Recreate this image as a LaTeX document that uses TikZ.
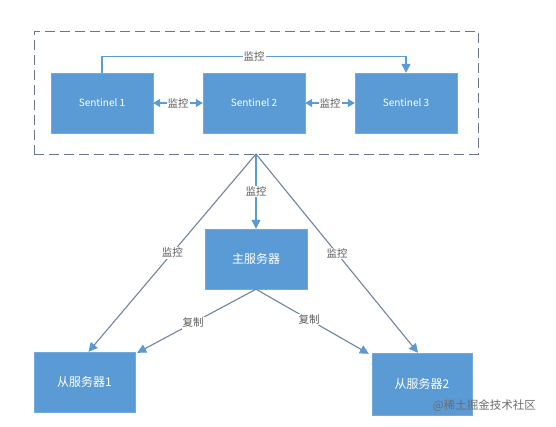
\documentclass[tikz,border=0pt]{standalone}
\usepackage{fontspec}
\setmainfont{Noto Sans CJK SC}
\usetikzlibrary{arrows.meta}
\definecolor{boxblue}{HTML}{5B9BD5}
\definecolor{linegray}{HTML}{6E849B}
\definecolor{dashgray}{HTML}{66788A}
\definecolor{labelgray}{HTML}{595959}
\tikzset{
  blockbox/.style={draw=boxblue!85!white, fill=boxblue, text=white, minimum width=102pt, minimum height=60pt, inner sep=0pt, font=\fontsize{12}{14}\selectfont},
  sentbox/.style={blockbox, font=\fontsize{10}{12}\selectfont},
  lbl/.style={fill=white, text=labelgray, inner sep=1pt, font=\fontsize{10.5}{12}\selectfont},
  tipA/.style={-{Triangle[length=9pt,width=9pt,color=boxblue]}},
  tipB/.style={{Triangle[length=7pt,width=8pt,color=boxblue]}-{Triangle[length=7pt,width=8pt,color=boxblue]}},
  blueline/.style={draw=boxblue, line width=1.3pt},
  grayline/.style={draw=linegray, line width=1.1pt},
}
\begin{document}
\begin{tikzpicture}[x=1pt,y=-1pt]
\useasboundingbox (0,0) rectangle (556,426);
\node[draw=dashgray, dash pattern=on 10pt off 5pt, line width=1pt, minimum width=444pt, minimum height=123pt, inner sep=0pt] (grp) at (256,92.5) {};
\coordinate (apex) at (256,154);
\node[sentbox] (s1) at (102,103) {Sentinel 1};
\node[sentbox] (s2) at (254,103) {Sentinel 2};
\node[sentbox] (s3) at (406,103) {Sentinel 3};
\node[blockbox] (m) at (256,259) {主服务器};
\node[blockbox, minimum width=101pt] (sl1) at (84.5,382) {从服务器1};
\node[blockbox, minimum width=100pt, minimum height=62pt] (sl2) at (422,384) {从服务器2};
% top monitor arrow
\draw[blueline, tipA] (s1.north) -- ++(0,-16.5) -| node[lbl, pos=0.25] {监控} (s3.north);
% bidirectional
\draw[blueline, tipB] (s1.east) -- node[lbl] {监控} (s2.west);
\draw[blueline, tipB] (s2.east) -- node[lbl] {监控} (s3.west);
% apex to master
\draw[blueline, tipA] (apex) -- node[lbl, pos=0.5] {监控} (m.north);
% apex to slaves
\draw[grayline, tipA] (apex) -- node[lbl, pos=0.5] {监控} ([xshift=4pt]sl1.north);
\draw[grayline, tipA] (apex) -- node[lbl, pos=0.5] {监控} ([xshift=-4pt]sl2.north);
% master to slaves
\draw[grayline, tipA] (m.south) -- node[lbl, pos=0.53] {复制} ([xshift=2pt,yshift=-1pt]sl1.north east);
\draw[grayline, tipA] (m.south) -- node[lbl, pos=0.47] {复制} ([xshift=-3pt,yshift=-1pt]sl2.north west);
\node[text=gray!85!black, font=\fontsize{11.5}{13}\selectfont, inner sep=0pt, anchor=east] (wm) at (536,406) {@稀土掘金技术社区};
\end{tikzpicture}
\end{document}
